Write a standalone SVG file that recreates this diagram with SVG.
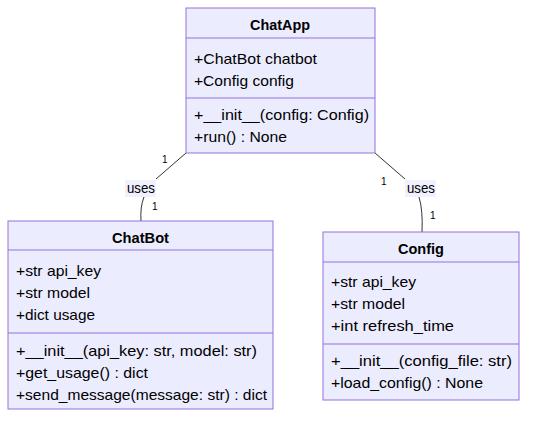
<svg xmlns="http://www.w3.org/2000/svg" width="535" height="425" viewBox="0 0 535 425">
<style>
.box{fill:#ECECFF;stroke:#9370DB;stroke-width:1}
.div{stroke:#9370DB;stroke-width:1}
text{font-family:"Liberation Sans",Arial,sans-serif;font-size:15px;fill:#000}
.title{font-weight:bold}
.card{font-size:10px}
.edge{fill:none;stroke:#333;stroke-width:1}
.lblbg{fill:#ECECFF;opacity:0.8}
</style>
<rect width="535" height="425" fill="#fff"/>
<g id="edges">
<path class="edge" d="M186,153 L156,179"/>
<path class="edge" d="M144,197 Q140,207 141,221"/>
<path class="edge" d="M375,153 L405,179"/>
<path class="edge" d="M419,197 Q423,210 422,232"/>
<rect class="lblbg" x="125" y="180" width="31" height="17"/>
<text x="127" y="193" textLength="28" lengthAdjust="spacingAndGlyphs">uses</text>
<rect class="lblbg" x="405" y="180" width="31" height="17"/>
<text x="407" y="193" textLength="28" lengthAdjust="spacingAndGlyphs">uses</text>
<text class="card" x="162" y="163">1</text>
<text class="card" x="152" y="210">1</text>
<text class="card" x="381" y="185">1</text>
<text class="card" x="430" y="219">1</text>
</g>
<g id="ChatApp">
<rect class="box" x="186" y="8" width="189" height="145"/>
<line class="div" x1="186" y1="38" x2="375" y2="38"/>
<line class="div" x1="186" y1="98" x2="375" y2="98"/>
<text class="title" x="250" y="30" textLength="60" lengthAdjust="spacingAndGlyphs">ChatApp</text>
<text x="194" y="64" textLength="123" lengthAdjust="spacingAndGlyphs">+ChatBot chatbot</text>
<text x="194" y="86" textLength="100" lengthAdjust="spacingAndGlyphs">+Config config</text>
<text x="194" y="120" textLength="175" lengthAdjust="spacingAndGlyphs">+__init__(config: Config)</text>
<text x="194" y="142" textLength="93" lengthAdjust="spacingAndGlyphs">+run() : None</text>
</g>
<g id="ChatBot">
<rect class="box" x="8" y="221" width="265" height="188"/>
<line class="div" x1="8" y1="250" x2="273" y2="250"/>
<line class="div" x1="8" y1="333" x2="273" y2="333"/>
<text class="title" x="112" y="243" textLength="57" lengthAdjust="spacingAndGlyphs">ChatBot</text>
<text x="16" y="276" textLength="85" lengthAdjust="spacingAndGlyphs">+str api_key</text>
<text x="16" y="298" textLength="74" lengthAdjust="spacingAndGlyphs">+str model</text>
<text x="16" y="320" textLength="79" lengthAdjust="spacingAndGlyphs">+dict usage</text>
<text x="16" y="356" textLength="241" lengthAdjust="spacingAndGlyphs">+__init__(api_key: str, model: str)</text>
<text x="16" y="378" textLength="132" lengthAdjust="spacingAndGlyphs">+get_usage() : dict</text>
<text x="16" y="400" textLength="251" lengthAdjust="spacingAndGlyphs">+send_message(message: str) : dict</text>
</g>
<g id="Config">
<rect class="box" x="323" y="232" width="196" height="168"/>
<line class="div" x1="323" y1="262" x2="519" y2="262"/>
<line class="div" x1="323" y1="344" x2="519" y2="344"/>
<text class="title" x="398" y="254" textLength="46" lengthAdjust="spacingAndGlyphs">Config</text>
<text x="331" y="287" textLength="85" lengthAdjust="spacingAndGlyphs">+str api_key</text>
<text x="331" y="309" textLength="74" lengthAdjust="spacingAndGlyphs">+str model</text>
<text x="331" y="331" textLength="123" lengthAdjust="spacingAndGlyphs">+int refresh_time</text>
<text x="331" y="366" textLength="181" lengthAdjust="spacingAndGlyphs">+__init__(config_file: str)</text>
<text x="331" y="388" textLength="152" lengthAdjust="spacingAndGlyphs">+load_config() : None</text>
</g>
</svg>
